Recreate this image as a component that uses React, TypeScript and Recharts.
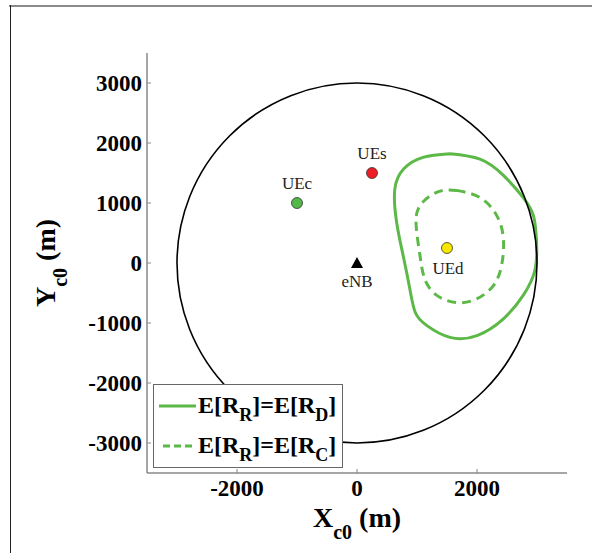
import { ComposedChart, XAxis, YAxis, Line, Scatter, ReferenceDot, Legend } from 'recharts';

// cell edge and axis ticks
const CELL_RADIUS = 3000;
const AXIS_DOMAIN = [-3500, 3500];
const X_TICKS = [-2000, 0, 2000];
const Y_TICKS = [-3000, -2000, -1000, 0, 1000, 2000, 3000];

// node positions
const NODES = [
  { name: 'eNB', x: 0, y: 0 },
  { name: 'UEc', x: -1000, y: 1000 },
  { name: 'UEs', x: 250, y: 1500 },
  { name: 'UEd', x: 1500, y: 250 },
];

// E[R_R] = E[R_D] contour
const CONTOUR_D = [
  { x: 1550, y: 1820 }, { x: 2050, y: 1730 }, { x: 2440, y: 1460 }, { x: 2770, y: 1090 },
  { x: 2940, y: 790 }, { x: 2990, y: 400 }, { x: 2970, y: -100 }, { x: 2770, y: -540 },
  { x: 2440, y: -930 }, { x: 2000, y: -1210 }, { x: 1550, y: -1240 }, { x: 1160, y: -1040 },
  { x: 970, y: -820 }, { x: 880, y: -430 }, { x: 770, y: 120 }, { x: 660, y: 680 },
  { x: 630, y: 1230 }, { x: 780, y: 1570 }, { x: 1100, y: 1760 }, { x: 1550, y: 1820 },
];

// E[R_R] = E[R_C] contour
const CONTOUR_C = [
  { x: 1660, y: 1210 }, { x: 2050, y: 1090 }, { x: 2330, y: 790 }, { x: 2440, y: 400 },
  { x: 2410, y: -40 }, { x: 2270, y: -380 }, { x: 1990, y: -600 }, { x: 1660, y: -660 },
  { x: 1330, y: -540 }, { x: 1130, y: -270 }, { x: 1050, y: 120 }, { x: 990, y: 570 },
  { x: 1020, y: 900 }, { x: 1220, y: 1120 }, { x: 1440, y: 1210 }, { x: 1660, y: 1210 },
];

const LEGEND_SUBS = ['D', 'C'];

const GREEN = '#5cb947';
const SERIF = '"Liberation Serif", "Times New Roman", serif';
const PLOT_SIZE = 420;

const NODE_STYLE: Record<string, { fill: string; labelDy: number; labelDx: number }> = {
  eNB: { fill: '#000', labelDy: 24, labelDx: 0 },
  UEc: { fill: '#52b848', labelDy: -14, labelDx: 0 },
  UEs: { fill: '#ee1c24', labelDy: -14, labelDx: 0 },
  UEd: { fill: '#f7e600', labelDy: 26, labelDx: 1 },
};

const renderNode = (props: any) => {
  const { cx, cy, payload } = props;
  const s = NODE_STYLE[payload.name];
  return (
    <g>
      {payload.name === 'eNB' ? (
        <polygon points={`${cx},${cy - 6} ${cx - 6},${cy + 5} ${cx + 6},${cy + 5}`} fill="#000" />
      ) : (
        <circle cx={cx} cy={cy} r={5.5} fill={s.fill} stroke="#333" strokeWidth={0.8} />
      )}
      <text x={cx + s.labelDx} y={cy + s.labelDy} textAnchor="middle" fontFamily={SERIF} fontSize={17} fill="#222">
        {payload.name}
      </text>
    </g>
  );
};

const XTitle = (props: any) => {
  const { x, y, width } = props.viewBox;
  return (
    <text x={x + width / 2} y={y + 54} textAnchor="middle" fontFamily={SERIF} fontWeight="bold" fontSize={28} fill="#000">
      X<tspan fontSize={20} dy={12}>c0</tspan>
      <tspan dy={-12}> (m)</tspan>
    </text>
  );
};

const YTitle = (props: any) => {
  const { x, y, height } = props.viewBox;
  const bx = x - 12;
  const by = y + height / 2;
  return (
    <text x={bx} y={by} transform={`rotate(-90, ${bx}, ${by})`} textAnchor="middle" fontFamily={SERIF} fontWeight="bold" fontSize={28} fill="#000">
      Y<tspan fontSize={20} dy={12}>c0</tspan>
      <tspan dy={-12}> (m)</tspan>
    </text>
  );
};

const subStyle = { fontSize: 18, position: 'relative' as const, top: 8 };

const renderLegend = () => (
  <div
    style={{
      border: '1.5px solid #666',
      background: '#fff',
      width: 190,
      height: 84,
      boxSizing: 'border-box',
      fontFamily: SERIF,
      fontWeight: 'bold',
      fontSize: 24,
      color: '#000',
      paddingTop: 1,
    }}
  >
    {LEGEND_SUBS.map((sub, i) => (
      <div key={sub} style={{ display: 'flex', alignItems: 'center', height: 40, lineHeight: '24px' }}>
        <svg width={44} height={10} style={{ flex: 'none' }}>
          <line x1={i === 0 ? 5 : 9} x2={42} y1={5} y2={5} stroke={GREEN} strokeWidth={3} strokeDasharray={i === 0 ? undefined : '7 4'} />
        </svg>
        <span style={{ whiteSpace: 'nowrap' }}>
          E[R<span style={subStyle}>R</span>]=E[R<span style={subStyle}>{sub}</span>]
        </span>
      </div>
    ))}
  </div>
);

const tickStyle = { fontFamily: SERIF, fontWeight: 'bold', fontSize: 23, fill: '#000' };

export default function App() {
  const r = (CELL_RADIUS * PLOT_SIZE) / (AXIS_DOMAIN[1] - AXIS_DOMAIN[0]);
  return (
    <div style={{ position: 'absolute', left: 0, top: 0, width: 592, height: 553, background: '#fff' }}>
      <div style={{ position: 'absolute', left: 9, top: 5, width: 583, height: 2, background: '#8a8a8a' }} />
      <div style={{ position: 'absolute', left: 10, top: 5, width: 1, height: 548, background: '#222' }} />
      <div style={{ position: 'absolute', left: 0, top: 0 }}>
        <ComposedChart width={592} height={553} margin={{ top: 53, right: 25, bottom: 40, left: 67 }}>
          <XAxis
            type="number"
            dataKey="x"
            domain={AXIS_DOMAIN}
            ticks={X_TICKS}
            allowDataOverflow
            height={40}
            tickSize={-4}
            tickMargin={11}
            tick={tickStyle}
            axisLine={{ stroke: '#888', strokeWidth: 1.5 }}
            tickLine={{ stroke: '#888' }}
            label={{ content: (p: any) => <XTitle {...p} /> }}
          />
          <YAxis
            type="number"
            dataKey="y"
            domain={AXIS_DOMAIN}
            ticks={Y_TICKS}
            allowDataOverflow
            width={80}
            tickSize={-4}
            tickMargin={9}
            tick={tickStyle}
            axisLine={{ stroke: '#888', strokeWidth: 1.5 }}
            tickLine={{ stroke: '#888' }}
            label={{ content: (p: any) => <YTitle {...p} /> }}
          />
          <ReferenceDot x={0} y={0} r={r} fill="none" stroke="#000" strokeWidth={1.6} ifOverflow="visible" />
          <Line
            data={CONTOUR_D}
            dataKey="y"
            type="natural"
            stroke={GREEN}
            strokeWidth={3}
            dot={false}
            activeDot={false}
            legendType="none"
            isAnimationActive={false}
          />
          <Line
            data={CONTOUR_C}
            dataKey="y"
            type="natural"
            stroke={GREEN}
            strokeWidth={3}
            strokeDasharray="9 6"
            dot={false}
            activeDot={false}
            legendType="none"
            isAnimationActive={false}
          />
          <Scatter data={NODES} dataKey="y" shape={renderNode} legendType="none" isAnimationActive={false} />
          <Legend
            content={renderLegend}
            layout="horizontal"
            align="center"
            verticalAlign="middle"
            wrapperStyle={{ left: 153, top: 384, width: 190, height: 84 }}
          />
        </ComposedChart>
      </div>
    </div>
  );
}
